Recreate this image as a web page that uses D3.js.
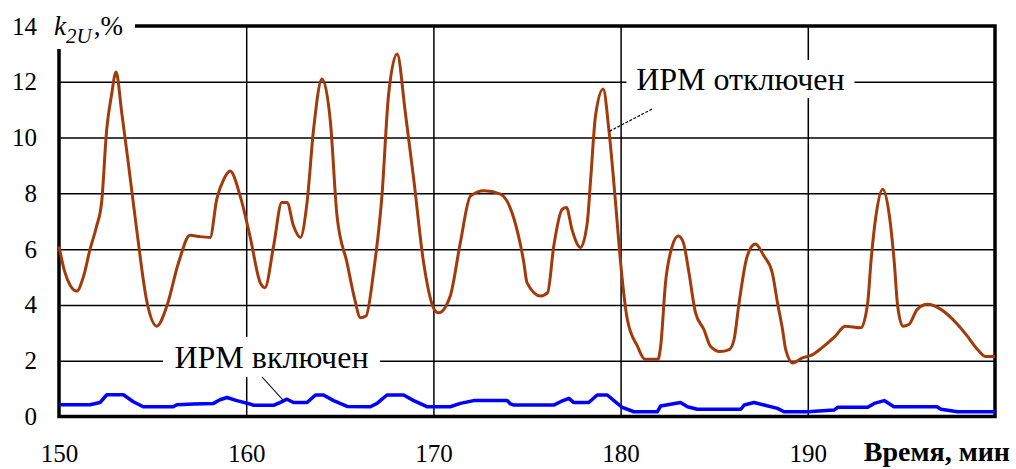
<!DOCTYPE html>
<html lang="ru">
<head>
<meta charset="utf-8">
<title>k2U</title>
<script src="https://cdnjs.cloudflare.com/ajax/libs/d3/7.8.5/d3.min.js"></script>
<style>
  body { margin: 0; background: #fff; }
  svg text { font-family: "Times New Roman", "Liberation Serif", "DejaVu Serif", serif; }
</style>
</head>
<body>
<script>
// ИРМ отключен
var timeOff = [150.0,150.3,150.6,150.95,151.3,151.66,152.0,152.28,152.55,152.8,153.05,153.35,153.7,154.15,154.7,155.22,155.76,156.38,157.0,157.5,158.07,158.43,158.8,159.14,159.68,160.2,160.75,161.0,161.46,161.9,162.18,162.53,162.89,163.25,163.6,164.05,164.5,164.85,165.39,165.8,166.1,166.4,166.8,167.25,167.6,168.06,168.5,168.95,169.48,170.1,170.28,170.9,171.44,171.98,172.7,173.58,174.3,174.83,175.0,175.72,176.1,176.43,176.88,177.11,177.4,177.86,178.22,178.4,178.66,179.07,179.37,179.73,180.0,180.36,180.9,181.3,182.0,182.14,182.4,182.76,183.08,183.35,183.65,184.0,184.45,184.8,185.3,185.8,186.06,186.33,186.77,187.2,187.65,188.1,188.38,188.65,188.82,189.2,189.7,190.2,190.75,191.47,192.0,192.83,193.2,193.37,193.64,194.0,194.36,194.62,194.8,195.08,195.4,195.85,196.4,197.11,198.0,198.5,199.07,199.5,200.0];
var kOff = [6.1,5.2,4.7,4.5,5.0,6.0,6.8,7.7,10.3,11.5,12.35,10.9,9.1,6.7,4.1,3.24,3.96,5.5,6.5,6.45,6.42,7.8,8.5,8.8,7.9,6.47,4.8,4.62,6.1,7.67,7.67,6.83,6.42,7.67,10.3,12.1,10.55,7.2,5.5,4.2,3.54,3.6,5.16,7.9,11.5,13.0,10.9,8.5,5.5,3.78,3.72,4.32,6.24,7.9,8.09,7.97,7.1,5.52,4.8,4.32,4.44,6.11,7.43,7.49,6.71,6.06,6.95,8.5,10.78,11.74,10.3,7.67,5.52,3.48,2.52,2.05,2.05,2.52,4.8,6.11,6.47,6.24,5.16,3.72,3.12,2.52,2.33,2.4,2.76,4.08,5.76,6.18,5.76,5.16,4.08,3.12,2.4,1.92,2.1,2.2,2.46,2.88,3.24,3.18,4.08,5.52,7.19,8.15,7.19,5.52,3.96,3.24,3.3,3.84,4.02,3.84,3.3,2.9,2.4,2.15,2.15];

// ИРМ включен
var timeOn = [150.0,151.66,152.19,152.55,153.44,153.97,154.5,156.1,156.3,157.2,158.25,158.6,158.97,159.5,160.2,160.4,161.46,161.8,162.18,162.53,163.25,163.7,164.13,164.67,165.39,166.63,166.99,167.52,168.41,168.95,169.48,169.66,170.9,171.44,172.15,173.94,174.12,174.3,176.43,176.79,177.24,177.5,178.3,178.75,179.29,179.82,180.09,180.71,181.96,182.14,183.2,183.57,184.1,186.42,186.6,187.13,187.66,188.38,188.73,189.98,191.4,191.6,193.2,193.55,194.08,194.6,196.9,197.11,198.0,200.0];
var kOn = [0.42,0.42,0.5,0.78,0.78,0.53,0.35,0.35,0.42,0.45,0.47,0.6,0.68,0.57,0.45,0.4,0.4,0.5,0.62,0.5,0.5,0.77,0.77,0.57,0.36,0.35,0.47,0.77,0.77,0.57,0.41,0.35,0.35,0.47,0.57,0.57,0.45,0.41,0.41,0.53,0.65,0.5,0.5,0.77,0.77,0.47,0.33,0.17,0.17,0.38,0.5,0.35,0.26,0.26,0.41,0.5,0.41,0.29,0.17,0.17,0.23,0.33,0.33,0.47,0.57,0.35,0.35,0.26,0.17,0.17];

var xTicks = [150, 160, 170, 180, 190];
var yTicks = [0, 2, 4, 6, 8, 10, 12, 14];
var xGrid = [160, 170, 180, 190];
var yGrid = [2, 4, 6, 8, 10, 12];

var W = 1016, H = 469;
var margin = {top: 26, right: 21, bottom: 52.5, left: 59};
var w = W - margin.left - margin.right;
var h = H - margin.top - margin.bottom;

var svg = d3.select("body").append("svg")
    .attr("width", W)
    .attr("height", H);

var g = svg.append("g")
    .attr("transform", "translate(" + margin.left + "," + margin.top + ")");

var x = d3.scaleLinear().domain([150, 200]).range([0, w]);
var y = d3.scaleLinear().domain([0, 14]).range([h, 0]);

// grid
g.append("g")
    .call(d3.axisLeft(y).tickValues(yGrid).tickSize(-w).tickFormat(""))
    .call(function(s) { s.select(".domain").remove(); })
    .selectAll("line").attr("stroke", "#000").attr("stroke-width", 1.5);

g.append("g")
    .attr("transform", "translate(0," + h + ")")
    .call(d3.axisBottom(x).tickValues(xGrid).tickSize(-h).tickFormat(""))
    .call(function(s) { s.select(".domain").remove(); })
    .selectAll("line").attr("stroke", "#000").attr("stroke-width", 1.5);

// frame
g.append("rect")
    .attr("width", w).attr("height", h)
    .attr("fill", "none").attr("stroke", "#000").attr("stroke-width", 3.5);

// lines
var lineOn = d3.line()
    .x(function(d) { return x(d[0]); })
    .y(function(d) { return y(d[1]); });
var lineOff = d3.line()
    .curve(d3.curveMonotoneX)
    .x(function(d) { return x(d[0]); })
    .y(function(d) { return y(d[1]); });

g.append("path")
    .datum(d3.zip(timeOn, kOn))
    .attr("fill", "none").attr("stroke", "#0000ff").attr("stroke-width", 3.5)
    .attr("stroke-linejoin", "round")
    .attr("d", lineOn);

g.append("path")
    .datum(d3.zip(timeOff, kOff))
    .attr("fill", "none").attr("stroke", "#a23b0b").attr("stroke-width", 3)
    .attr("stroke-linejoin", "round")
    .attr("d", lineOff);

// tick labels
g.append("g")
    .call(d3.axisLeft(y).tickValues(yTicks).tickSize(0).tickPadding(22))
    .call(function(s) { s.select(".domain").remove(); })
    .selectAll("text").style("font-size", "25px");

g.append("g")
    .attr("transform", "translate(0," + h + ")")
    .call(d3.axisBottom(x).tickValues(xTicks).tickSize(0).tickPadding(28))
    .call(function(s) { s.select(".domain").remove(); })
    .selectAll("text").style("font-size", "25px");

svg.append("text")
    .attr("x", 1010).attr("y", 461)
    .attr("text-anchor", "end")
    .style("font-size", "28px").style("font-weight", "bold")
    .text("Время, мин");

// y axis title with white backing
svg.append("rect").attr("x", 42).attr("y", 0).attr("width", 93).attr("height", 49).attr("fill", "#fff");
var yt = svg.append("text").attr("x", 54).attr("y", 35).style("font-size", "27px");
yt.append("tspan").style("font-style", "italic").text("k");
yt.append("tspan").attr("dy", 8).style("font-style", "italic").style("font-size", "21px").text("2U");
yt.append("tspan").attr("dy", -8).attr("dx", 2).text(",%");

// annotations
function label(t, v, bw, bh, txt) {
  g.append("rect")
    .attr("x", x(t) - bw / 2).attr("y", y(v) - bh / 2)
    .attr("width", bw).attr("height", bh).attr("fill", "#fff");
  g.append("text")
    .attr("x", x(t)).attr("y", y(v))
    .attr("text-anchor", "middle").attr("dominant-baseline", "central")
    .style("font-size", "32px")
    .text(txt);
}
label(186.4, 12.1, 228, 38, "ИРМ отключен");
label(161.35, 2.13, 217, 40, "ИРМ включен");

g.append("line")
    .attr("x1", x(181.68)).attr("y1", y(11.02))
    .attr("x2", x(179.33)).attr("y2", y(10.2))
    .attr("stroke", "#000").attr("stroke-width", 1.2).attr("stroke-dasharray", "3,1.5");

g.append("line")
    .attr("x1", x(160.84)).attr("y1", y(1.42))
    .attr("x2", x(161.97)).attr("y2", y(0.59))
    .attr("stroke", "#222").attr("stroke-width", 1.2);
</script>
</body>
</html>
